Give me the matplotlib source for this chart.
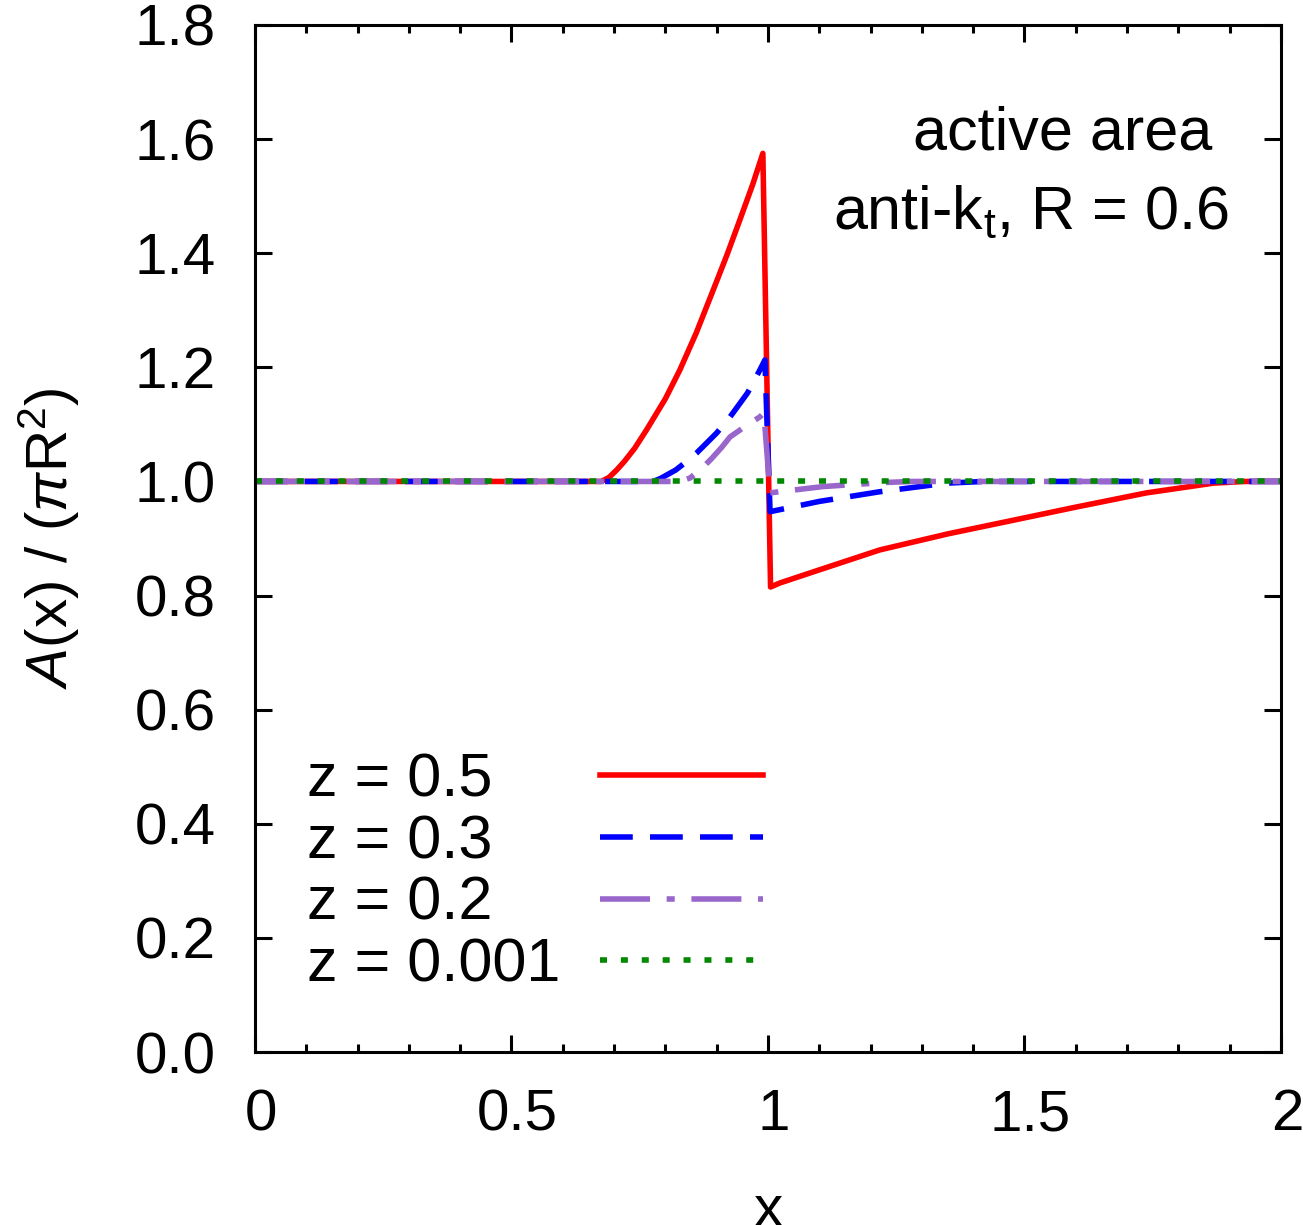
import matplotlib
matplotlib.use("Agg")
import matplotlib.pyplot as plt
import matplotlib.transforms as mtransforms
import numpy as np

plt.rcParams['font.family'] = ['Liberation Sans', 'DejaVu Sans']
plt.rcParams['mathtext.fontset'] = 'custom'
plt.rcParams['mathtext.rm'] = 'Liberation Sans'
plt.rcParams['mathtext.it'] = 'Liberation Sans:italic'

# values
x_z05 = [0.0, 0.675, 0.69, 0.705, 0.72, 0.74, 0.763, 0.80, 0.828, 0.86, 0.893, 0.92, 0.945, 0.97, 0.99,
         1.005, 1.023, 1.1, 1.218, 1.35, 1.478, 1.6, 1.738, 1.868, 1.93, 2.0]
y_z05 = [1.0, 1.0, 1.007, 1.02, 1.035, 1.058, 1.09, 1.145, 1.195, 1.26, 1.335, 1.397, 1.458, 1.52, 1.575,
         0.815, 0.822, 0.845, 0.88, 0.908, 0.932, 0.955, 0.98, 0.997, 1.0, 1.0]

x_z03 = [0.0, 0.776, 0.79, 0.80, 0.82, 0.84, 0.861, 0.88, 0.9, 0.926, 0.96, 0.984, 0.994,
         1.004, 1.1, 1.218, 1.348, 1.42, 2.0]
y_z03 = [1.0, 1.0, 1.005, 1.01, 1.02, 1.034, 1.05, 1.067, 1.085, 1.113, 1.155, 1.195, 1.213,
         0.947, 0.965, 0.982, 0.997, 1.0, 1.0]

x_z02 = [0.0, 0.82, 0.835, 0.848, 0.87, 0.89, 0.91, 0.926, 0.95, 0.97, 0.984, 0.992,
         1.004, 1.107, 1.224, 1.28, 2.0]
y_z02 = [1.0, 1.0, 1.002, 1.006, 1.022, 1.04, 1.06, 1.078, 1.093, 1.105, 1.113, 1.12,
         0.98, 0.991, 0.998, 1.0, 1.0]

x_z0001 = [0.0, 2.0]
y_z0001 = [1.0, 1.0]

labels = ['z = 0.5', 'z = 0.3', 'z = 0.2', 'z = 0.001']

fig = plt.figure(figsize=(13.03, 12.25), dpi=100)
ax = fig.add_axes([0.1957, 0.1412, 0.7874, 0.8384])

lw = 4
ax.plot(x_z05, y_z05, color='#ff0000', lw=lw, label=labels[0])
ax.plot(x_z03, y_z03, color='#0000ff', lw=lw, linestyle=(0, (5.9, 3.1)), label=labels[1])
ax.plot(x_z02, y_z02, color='#9966cc', lw=lw, linestyle=(0, (9, 3, 1.45, 3)), label=labels[2])
ax.plot(x_z0001, y_z0001, color='#008800', lw=lw, linestyle=(0, (1.26, 2.5)), label=labels[3])

ax.set_xlim(0, 2)
ax.set_ylim(0, 1.8)
ax.set_xticks([0, 0.5, 1, 1.5, 2])
ax.set_xticklabels(['0', '0.5', '1', '1.5', '2'])
ax.set_xticks(np.arange(0, 2.01, 0.1), minor=True)
ax.set_yticks(np.arange(0, 1.81, 0.2))
ax.set_yticklabels(['%.1f' % v for v in np.arange(0, 1.81, 0.2)])

for s in ax.spines.values():
    s.set_linewidth(2.2)
ax.tick_params(which='both', direction='in', top=True, right=True, width=2.2, labelsize=42)
ax.tick_params(which='major', length=12)
ax.tick_params(which='minor', length=6)
ax.tick_params(axis='y', pad=28)
ax.tick_params(axis='x', pad=26)

# gnuplot puts the x tick labels a few pixels to the right
shift = mtransforms.ScaledTranslation(6 / 100, 0, fig.dpi_scale_trans)
for lab in ax.get_xticklabels():
    lab.set_transform(lab.get_transform() + shift)

ax.set_xlabel('x', fontsize=42, labelpad=30)
ax.set_ylabel(r'$A$(x) / ($\pi$R$^2$)', fontsize=42, labelpad=38)

ax.text(1.866, 1.581, 'active area', fontsize=44, ha='right', va='baseline')
ax.text(1.897, 1.444, r'anti-k$_\mathrm{t}$, R = 0.6', fontsize=44, ha='right', va='baseline')

# gnuplot style key: text left aligned, sample line to the right
handles, _ = ax.get_legend_handles_labels()
leg_kw = dict(loc='upper left', frameon=False, fontsize=44, labelspacing=0.08,
              borderpad=0, borderaxespad=0)
leg_text = ax.legend(handles, labels, bbox_to_anchor=(0.0507, 0.292),
                     handlelength=0, handletextpad=0, **leg_kw)
for h in leg_text.legend_handles:
    h.set_visible(False)
ax.add_artist(leg_text)
leg_lines = ax.legend(handles, labels, bbox_to_anchor=(0.336, 0.292),
                      handlelength=2.67, handletextpad=0.5, **leg_kw)
for t in leg_lines.get_texts():
    t.set_alpha(0)

fig.savefig('out.png', dpi=100)
